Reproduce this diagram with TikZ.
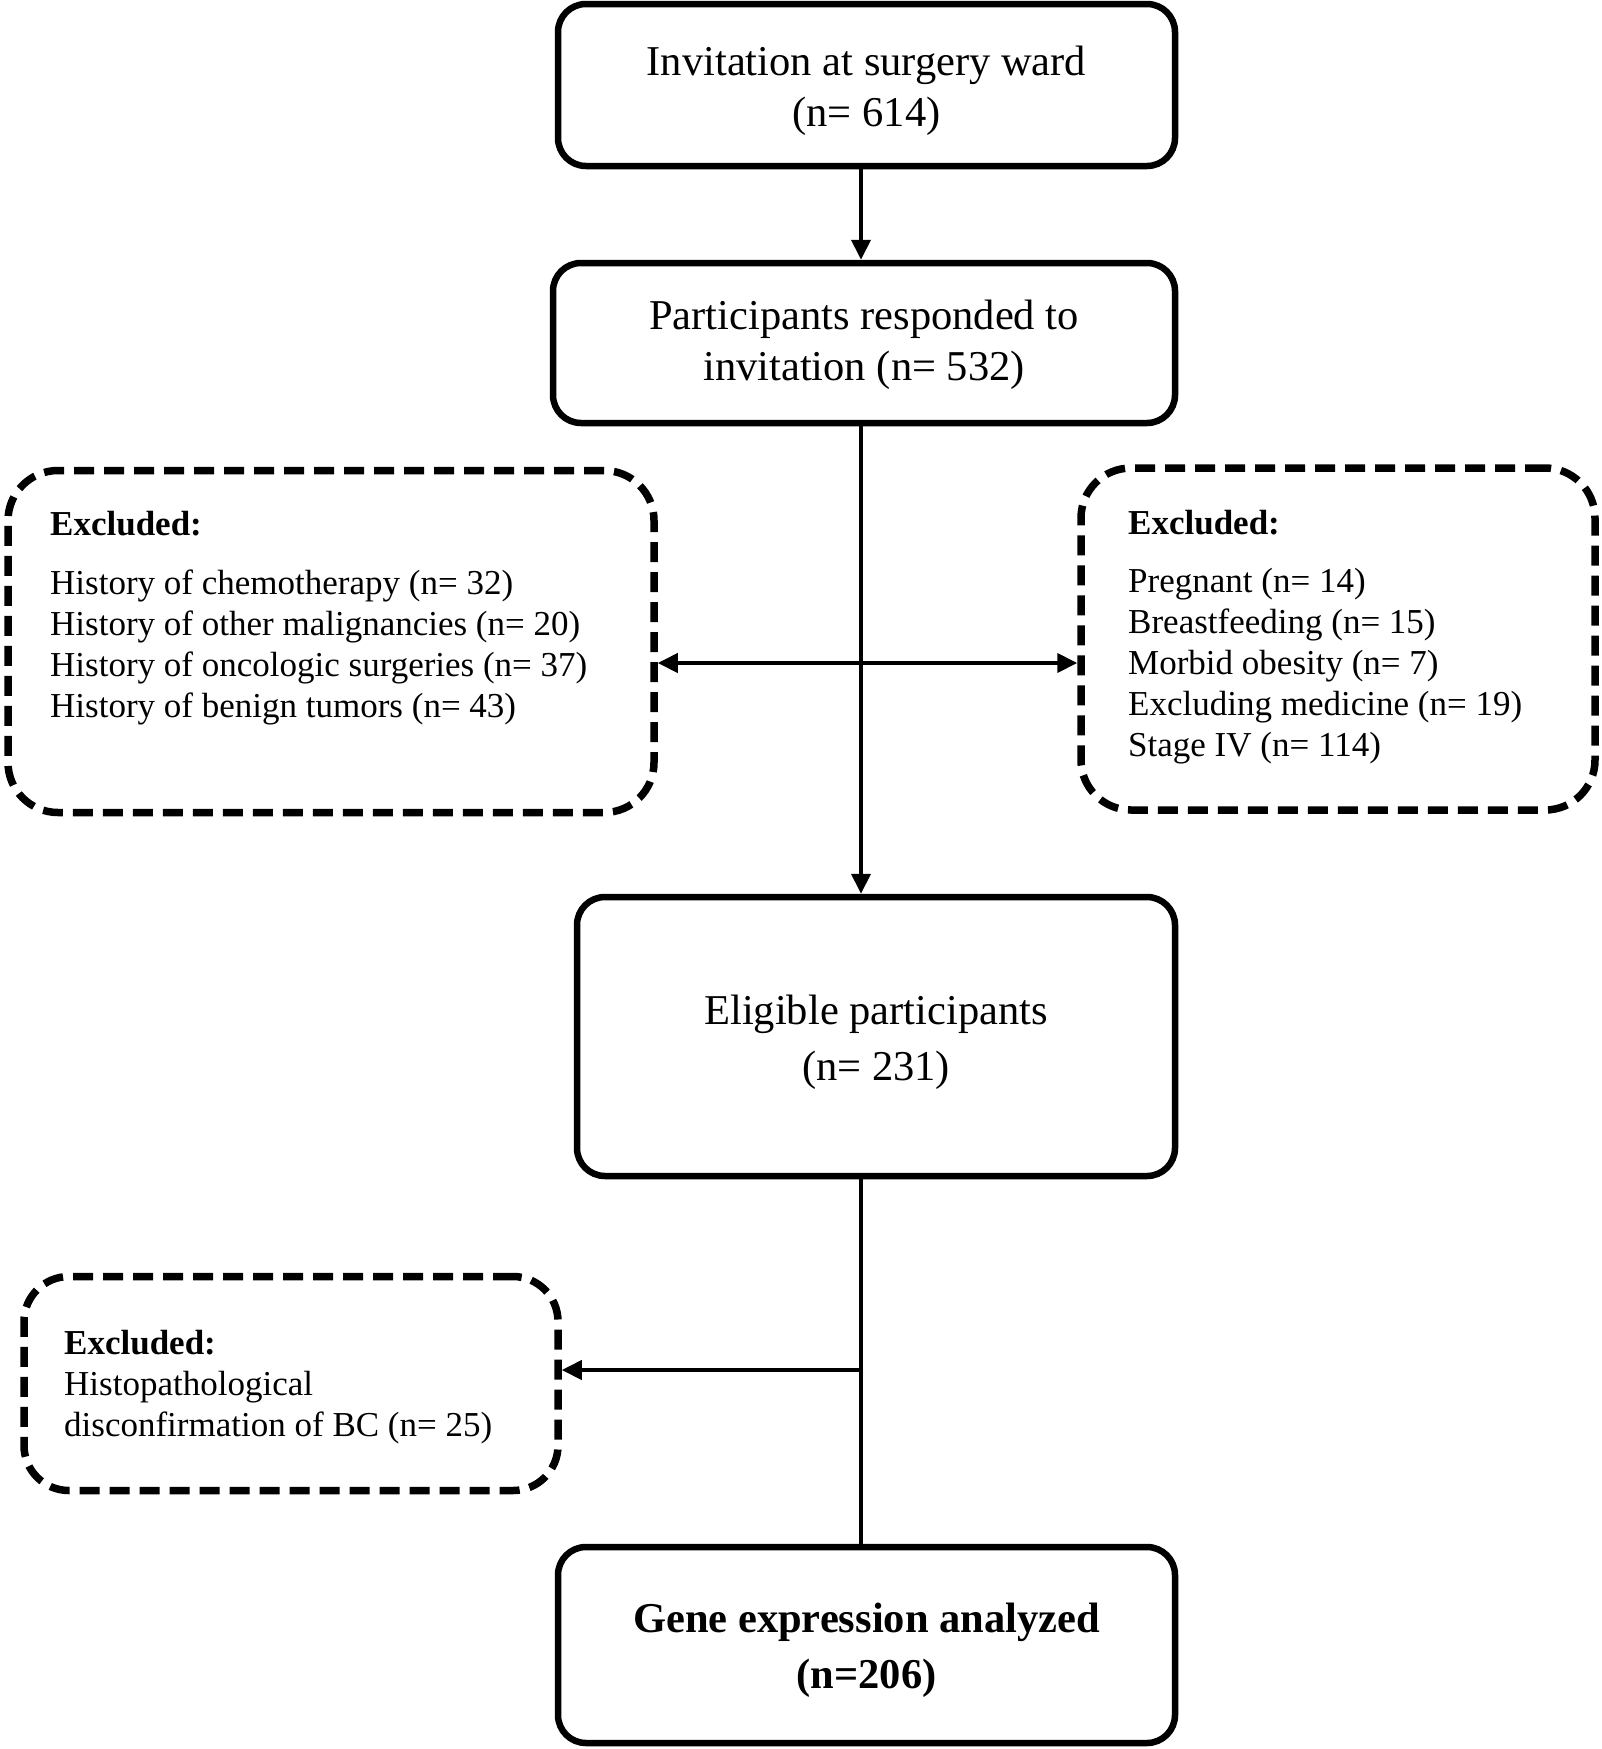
\documentclass[tikz,border=0pt]{standalone}
\usepackage{fontspec}
\setmainfont{Liberation Serif}
\usetikzlibrary{arrows.meta}
\begin{document}
\begin{tikzpicture}[x=1pt,y=-1pt,
  mainbox/.style={draw, line width=6.5pt, rounded corners=28pt, inner sep=0pt},
  maintext/.style={inner sep=0pt, align=center, font=\fontsize{42.5}{51}\selectfont},
  exbox/.style={draw, line width=7.5pt, dash pattern=on 20pt off 10pt, rounded corners=50pt, inner sep=0pt},
  extext/.style={anchor=west, align=left, inner sep=0pt, font=\fontsize{35}{41}\selectfont},
  exhead/.style={extext, font=\fontsize{35}{41}\selectfont\bfseries},
  conn/.style={line width=4pt},
  arr/.style={conn, -{Triangle[length=20pt,width=19pt]}},
  darr/.style={conn, {Triangle[length=20pt,width=19pt]}-{Triangle[length=20pt,width=19pt]}},
]
\useasboundingbox (0,0) rectangle (1602,1749);

\node[mainbox, minimum width=617pt, minimum height=162pt] (b1) at (866.5,85) {};
\node[maintext] (b1t) at (866.5,91) {Invitation at surgery ward\\(n= 614)};
\node[mainbox, minimum width=622pt, minimum height=160pt] (b2) at (864,343) {};
\node[maintext] (b2t) at (864,345) {Participants responded to\\invitation (n= 532)};
\node[mainbox, minimum width=598pt, minimum height=279pt] (b3) at (876,1036.5) {};
\node[maintext, font=\fontsize{42.5}{56}\selectfont] (b3t) at (876,1042) {Eligible participants\\(n= 231)};
\node[mainbox, minimum width=617pt, minimum height=196pt] (b4) at (866.5,1645) {};
\node[maintext, font=\fontsize{42.5}{56}\selectfont\bfseries] (b4t) at (866.5,1650) {Gene expression analyzed\\(n=206)};

\node[exbox, minimum width=646pt, minimum height=342pt] (L) at (331,641.5) {};
\node[exbox, minimum width=514pt, minimum height=342pt] (R) at (1338,639) {};
\node[exbox, minimum width=534pt, minimum height=214pt, rounded corners=45pt] (BL) at (291,1383.5) {};

\node[exhead] (Lh) at (50,524) {Excluded:};
\node[extext] (Ll) at (50,647.5) {History of chemotherapy (n= 32)\\History of other malignancies (n= 20)\\History of oncologic surgeries (n= 37)\\History of benign tumors (n= 43)};

\node[exhead] (Rh) at (1128,523) {Excluded:};
\node[extext] (Rl) at (1128,666.5) {Pregnant (n= 14)\\Breastfeeding (n= 15)\\Morbid obesity (n= 7)\\Excluding medicine (n= 19)\\Stage IV (n= 114)};

\node[extext] (BLt) at (64,1387.5) {\textbf{Excluded:}\\Histopathological\\disconfirmation of BC (n= 25)};

\coordinate (sp) at (861,0);
\coordinate (mid) at (861,663);
\coordinate (j) at (861,1370);

\draw[arr] (sp |- b1.south) -- (sp |- b2.north);
\draw[arr] (sp |- b2.south) -- (sp |- b3.north);
\draw[darr] (L.east |- mid) -- (R.west |- mid);
\draw[conn] (sp |- b3.south) -- (sp |- b4.north);
\draw[arr] (j) -- (BL.east |- j);
\end{tikzpicture}
\end{document}
